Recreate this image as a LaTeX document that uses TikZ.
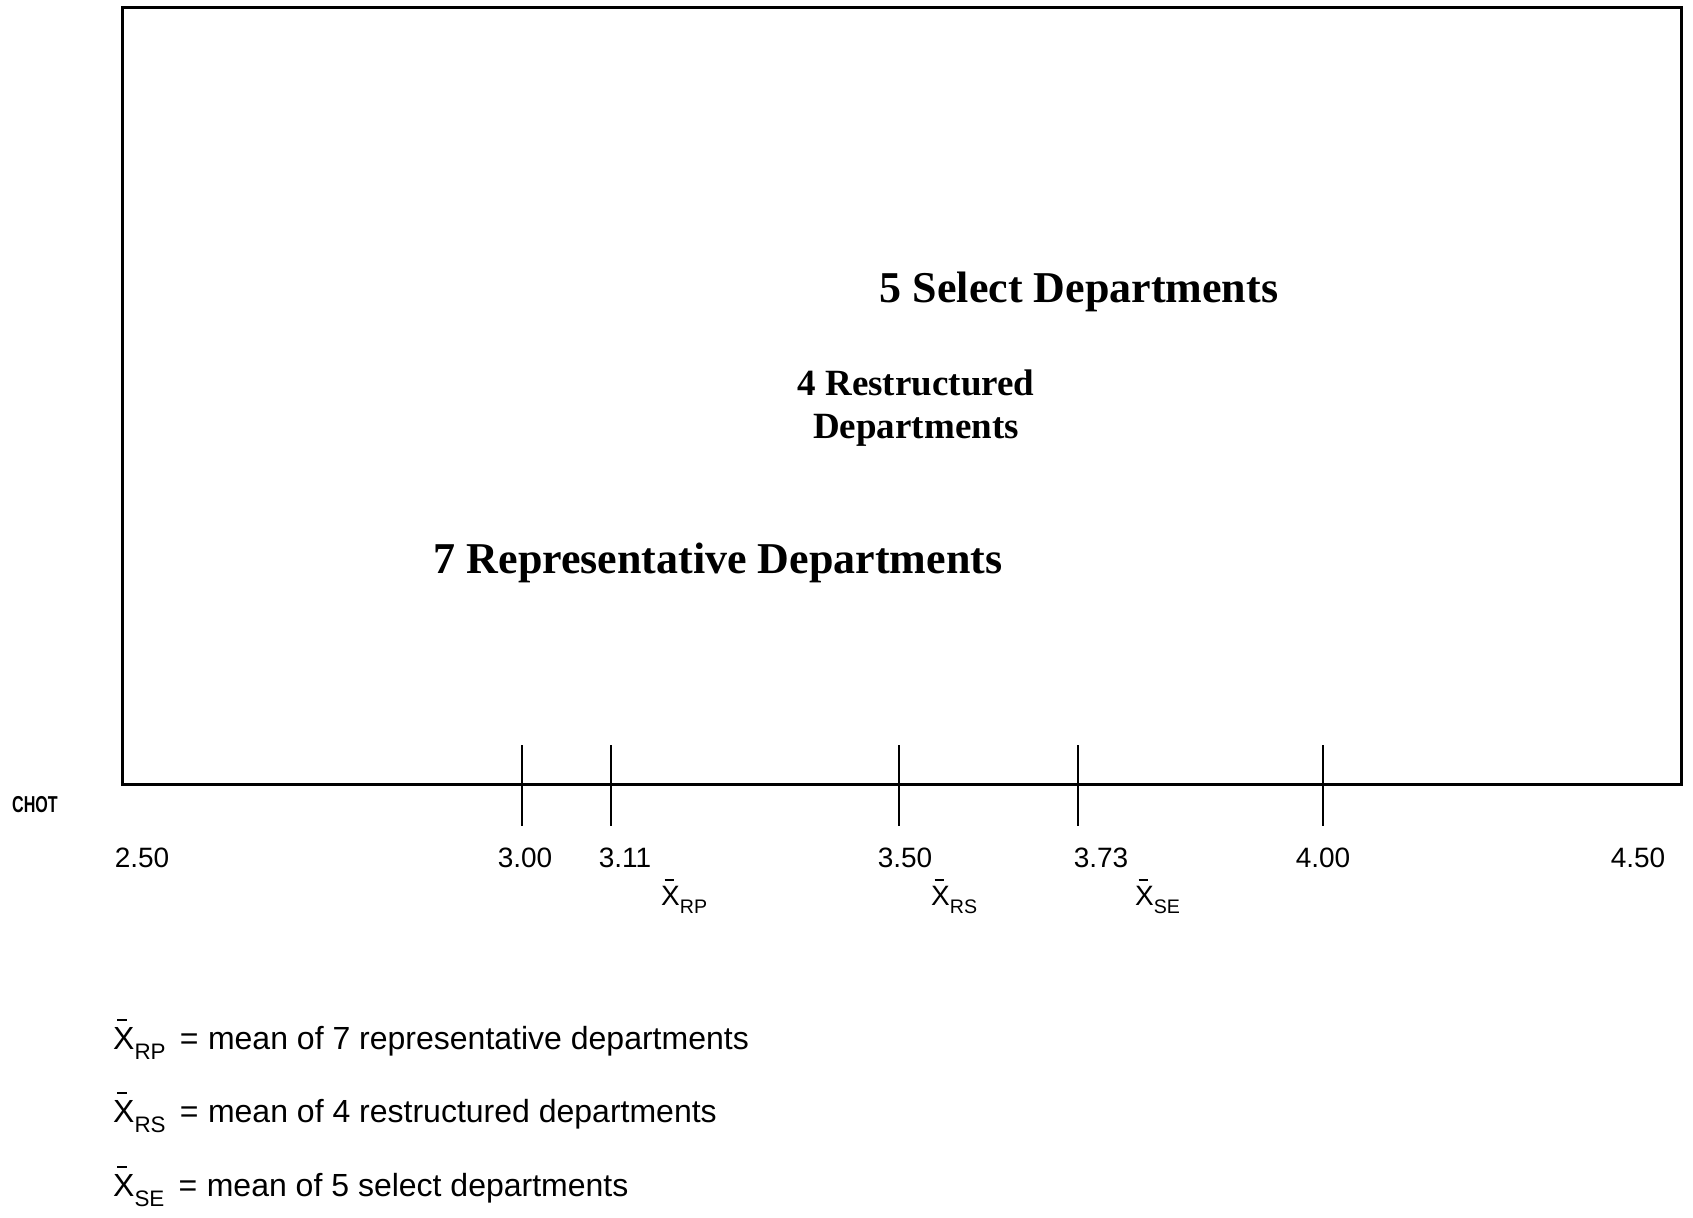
\documentclass[tikz,border=0pt]{standalone}
\usepackage{fontspec}
\setmainfont{Liberation Serif}
\setsansfont{Liberation Sans}
\usetikzlibrary{positioning}
\newcommand{\meanX}[1]{\leavevmode\rlap{\hspace{0.12em}\raisebox{0.86em}{\rule{0.32em}{0.07em}}}X\raisebox{-0.12em}{\textsubscript{#1}}}

\begin{document}
\begin{tikzpicture}[
    x=1pt,y=-1pt,
    frame/.style={line width=3pt,line join=miter},
    tick/.style={line width=2.5pt},
    dept/.style={font=\bfseries\fontsize{44}{50}\selectfont,inner sep=0pt,anchor=base},
    val/.style={font=\sffamily\fontsize{28}{32}\selectfont,inner sep=0pt,anchor=base},
    mean/.style={font=\sffamily\fontsize{28}{32}\selectfont,inner sep=0pt,anchor=base west},
    key/.style={font=\sffamily\fontsize{32}{36}\selectfont,inner sep=0pt,anchor=base west}
  ]
    \useasboundingbox (0,0) rectangle (1693,1217);
    % plot frame, bottom edge is the scale
    \draw[frame] (122,8) rectangle (1681,784);
    \draw[tick] (522,745) -- (522,826);
    \draw[tick] (611,745) -- (611,826);
    \draw[tick] (899,745) -- (899,826);
    \draw[tick] (1078,745) -- (1078,826);
    \draw[tick] (1323,745) -- (1323,826);
    \node[font=\sffamily\bfseries\fontsize{23}{26}\selectfont,inner sep=0pt,anchor=base] (chot) at (35,812) {\scalebox{0.7}[1]{CHOT}};
    % scale values
    \node[val] (v250) at (142,867) {2.50};
    \node[val] (v300) at (525,867) {3.00};
    \node[val] (v311) at (625,867) {3.11};
    \node[val] (v350) at (905,867) {3.50};
    \node[val] (v373) at (1101,867) {3.73};
    \node[val] (v400) at (1323,867) {4.00};
    \node[val] (v450) at (1638,867) {4.50};
    \node[mean] (mRP) at (661,905) {\meanX{RP}};
    \node[mean] (mRS) at (931,905) {\meanX{RS}};
    \node[mean] (mSE) at (1135,905) {\meanX{SE}};
    % groups
    \node[dept] (sel) at (1079,302) {5 Select Departments};
    \node[font=\bfseries\fontsize{37}{43}\selectfont,inner sep=0pt,align=center] (res) at (916,408) {4 Restructured\\Departments};
    \node[dept] (rep) at (718,573) {7 Representative Departments};
    % key
    \node[key] (kRP) at (113,1049) {\meanX{RP}\hspace{0.15em} = \hspace{0.02em}mean of 7 representative departments};
    \node[key] (kRS) at (113,1122) {\meanX{RS}\hspace{0.15em} = \hspace{0.02em}mean of 4 restructured departments};
    \node[key] (kSE) at (113,1196) {\meanX{SE}\hspace{0.15em} = \hspace{0.02em}mean of 5 select departments};
  \end{tikzpicture}
\end{document}
